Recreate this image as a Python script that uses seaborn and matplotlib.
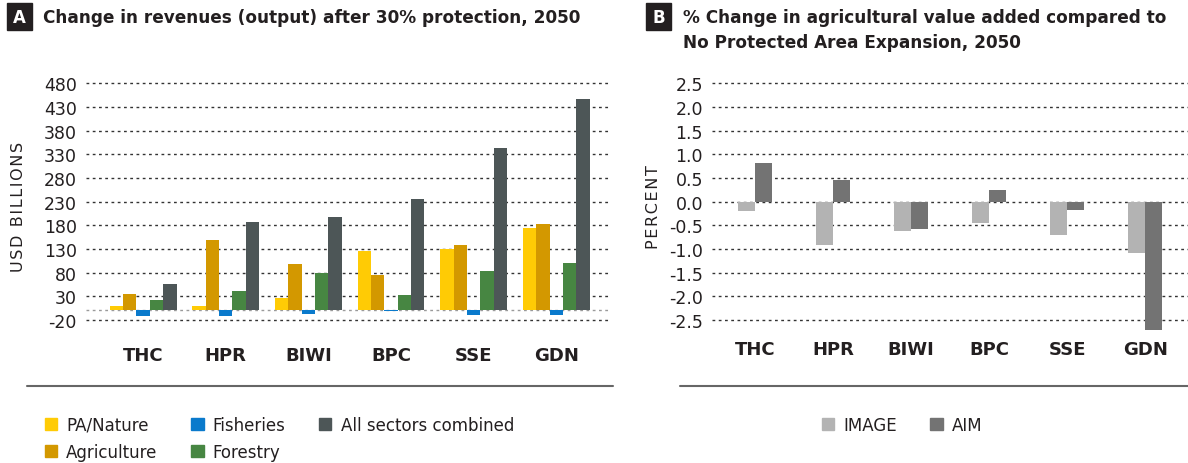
import matplotlib
matplotlib.use("Agg")
import matplotlib.pyplot as plt
from matplotlib.patches import Rectangle, Patch
from matplotlib.lines import Line2D
import numpy as np
import pandas as pd
import seaborn as sns

# ---- data -------------------------------------------------------------
regions = ["THC", "HPR", "BIWI", "BPC", "SSE", "GDN"]

sectors = ["PA/Nature", "Agriculture", "Fisheries", "Forestry", "All sectors combined"]
pa_nature = [10, 10, 27, 125, 130, 174]
agriculture = [35, 149, 98, 75, 138, 182]
fisheries = [-11, -11, -7, -2, -10, -10]
forestry = [22, 40, 79, 33, 83, 100]
all_sectors = [56, 187, 197, 235, 343, 446]

models = ["IMAGE", "AIM"]
image_pct = [-0.19, -0.91, -0.62, -0.44, -0.70, -1.08]
aim_pct = [0.82, 0.46, -0.58, 0.25, -0.17, -2.70]

ticks_a = [-20, 30, 80, 130, 180, 230, 280, 330, 380, 430, 480]
ticks_b = [-2.5, -2.0, -1.5, -1.0, -0.5, 0.0, 0.5, 1.0, 1.5, 2.0, 2.5]

colors_a = ["#FFCB05", "#D39800", "#0A7ACC", "#478642", "#4D5657"]
colors_b = ["#B3B3B3", "#737373"]

# long tables for seaborn
df_a = pd.DataFrame({
    "region": np.tile(regions, len(sectors)),
    "sector": np.repeat(sectors, len(regions)),
    "value": np.concatenate([pa_nature, agriculture, fisheries, forestry, all_sectors]),
})
df_b = pd.DataFrame({
    "region": np.tile(regions, len(models)),
    "model": np.repeat(models, len(regions)),
    "value": np.concatenate([image_pct, aim_pct]),
})

sns.set_theme(style="white")
plt.rcParams["font.family"] = ["DejaVu Sans"]
plt.rcParams["axes.unicode_minus"] = False
txt = "#231F20"

W, H = 1188, 464
fig = plt.figure(figsize=(W / 100, H / 100), dpi=100)


def fx(px):
    return px / W


def fy(py):
    return 1 - py / H


ax_a = fig.add_axes([fx(86), fy(323.2), fx(610 - 86), (323.2 - 79.5) / H])
ax_b = fig.add_axes([fx(712), fy(332.9), fx(476), (332.9 - 79.6) / H])

sns.barplot(data=df_a, x="region", y="value", hue="sector", hue_order=sectors,
            palette=colors_a, width=0.81, saturation=1, ax=ax_a, legend=False,
            errorbar=None, linewidth=0, zorder=3)
sns.barplot(data=df_b, x="region", y="value", hue="model", hue_order=models,
            palette=colors_b, width=0.43, saturation=1, ax=ax_b, legend=False,
            errorbar=None, linewidth=0, zorder=3)

ax_a.set_xlim(-0.69, 5.65)
ax_a.set_ylim(-25, 490)
ax_a.set_yticks(ticks_a)
ax_a.axhline(0, color="#9a9a9a", lw=1, ls=(0, (2, 2.5)), zorder=1)

ax_b.set_xlim(-0.55, 5.55)
ax_b.set_ylim(-2.75, 2.6)
ax_b.set_yticks(ticks_b)
ax_b.set_yticklabels([f"{t:.1f}" for t in ticks_b])

for ax, pad in [(ax_a, 17), (ax_b, 6)]:
    ax.set_xlabel("")
    ax.set_ylabel("")
    for s in ax.spines.values():
        s.set_visible(False)
    ax.yaxis.grid(True, color="#333333", lw=1, ls=(0, (2, 2.5)), zorder=0)
    ax.set_axisbelow(True)
    ax.tick_params(axis="y", length=0, pad=6.5, labelsize=12.5, labelcolor=txt)
    ax.tick_params(axis="x", length=0, pad=pad, labelsize=13, labelcolor=txt)
    for lab in ax.get_xticklabels():
        lab.set_fontweight("bold")

# axis titles (slightly tracked)
hair = "\u200a"
fig.text(fx(19), fy(207), hair.join("USD BILLIONS"), rotation=90,
         ha="center", va="center", fontsize=11.5, color=txt)
fig.text(fx(653), fy(207), hair.join("PERCENT"), rotation=90,
         ha="center", va="center", fontsize=11.5, color=txt)

# panel headers
for x0, letter in [(7, "A"), (646, "B")]:
    fig.add_artist(Rectangle((fx(x0), fy(31)), fx(25), 27 / H,
                             transform=fig.transFigure, color=txt))
    fig.text(fx(x0 + 12.5), fy(18), letter, color="white", fontsize=12,
             fontweight="bold", ha="center", va="center")
fig.text(fx(43), fy(18), "Change in revenues (output) after 30% protection, 2050",
         fontsize=12.2, fontweight="bold", color=txt, va="center", ha="left")
fig.text(fx(683), fy(18), "% Change in agricultural value added compared to",
         fontsize=12.2, fontweight="bold", color=txt, va="center", ha="left")
fig.text(fx(683), fy(43), "No Protected Area Expansion, 2050",
         fontsize=12.2, fontweight="bold", color=txt, va="center", ha="left")

# separator lines
fig.add_artist(Line2D([fx(27), fx(613)], [fy(386.5)] * 2, color="#666666", lw=1.5))
fig.add_artist(Line2D([fx(680), fx(1188)], [fy(386.5)] * 2, color="#666666", lw=1.5))

# legends
h_a = [Patch(color=c) for c in colors_a]
fig.legend(h_a, sectors, ncol=3, loc="upper left", bbox_to_anchor=(fx(38), fy(410)),
           frameon=False, fontsize=12, handlelength=0.75, handleheight=0.75,
           handletextpad=0.55, columnspacing=2.0, labelspacing=0.55, labelcolor=txt,
           borderaxespad=0)
h_b = [Patch(color=c) for c in colors_b]
fig.legend(h_b, models, ncol=2, loc="upper left", bbox_to_anchor=(fx(815), fy(410)),
           frameon=False, fontsize=12, handlelength=0.75, handleheight=0.75,
           handletextpad=0.55, columnspacing=2.0, labelcolor=txt, borderaxespad=0)

fig.savefig("out.png", dpi=100)
